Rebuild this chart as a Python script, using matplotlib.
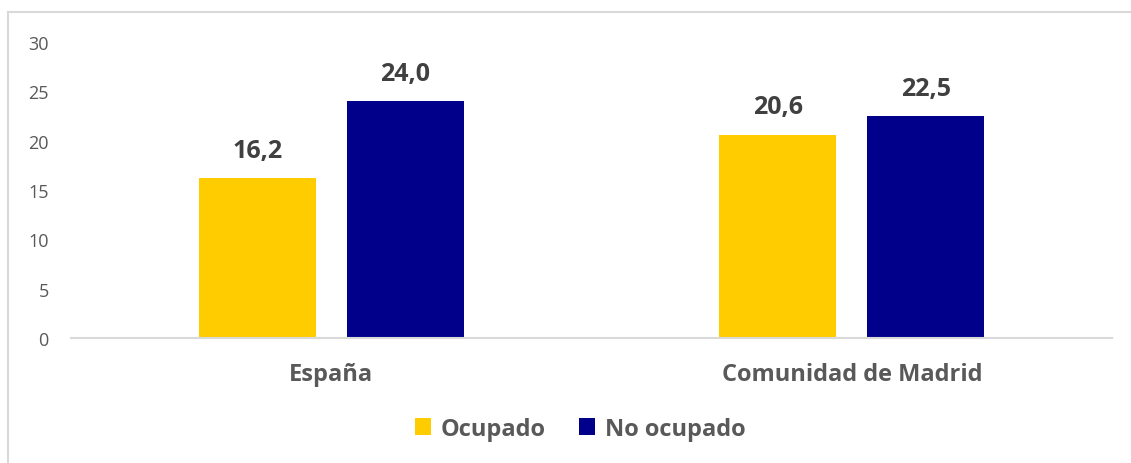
import matplotlib
matplotlib.use("Agg")
import matplotlib.pyplot as plt
import numpy as np
from matplotlib.patches import Patch
from matplotlib.lines import Line2D

categories = ["España", "Comunidad de Madrid"]
series_names = ["Ocupado", "No ocupado"]
ocupado = [16.2, 20.6]
no_ocupado = [24.0, 22.5]
labels_ocupado = ["16,2", "20,6"]
labels_no_ocupado = ["24,0", "22,5"]
yticks = [0, 5, 10, 15, 20, 25, 30]

plt.rcParams['font.family'] = ['Open Sans', 'DejaVu Sans']

W, H = 1131, 464
fig = plt.figure(figsize=(W/100, H/100), dpi=100)
ax = fig.add_axes([71/W, (H-339)/H, 1041/W, 296/H])

x = np.arange(len(categories))
bw = 0.225
off = 0.1425
c1, c2 = "#FFCC00", "#00008B"
b1 = ax.bar(x - off, ocupado, bw, color=c1, zorder=2)
b2 = ax.bar(x + off, no_ocupado, bw, color=c2, zorder=2)

for bars, labs in ((b1, labels_ocupado), (b2, labels_no_ocupado)):
    for r, t in zip(bars, labs):
        ax.annotate(t, (r.get_x() + r.get_width()/2, r.get_height()),
                    xytext=(0, 11), textcoords="offset points",
                    ha="center", va="bottom", fontsize=18, fontweight="bold",
                    color="#404040")

ax.set_xlim(-0.5, 1.5)
ax.set_ylim(0, 30)
ax.set_yticks(yticks)
ax.set_yticklabels([str(v) for v in yticks], fontsize=13, color="#595959")
ax.set_xticks(x)
ax.set_xticklabels(categories, fontsize=17, fontweight="bold", color="#595959")
ax.tick_params(axis="y", length=0, pad=16)
ax.tick_params(axis="x", length=0, pad=17)
for s in ("top", "right", "left"):
    ax.spines[s].set_visible(False)
ax.spines["bottom"].set_color("#d9d9d9")
ax.spines["bottom"].set_linewidth(1.5)

handles = [Patch(facecolor=c1, edgecolor="none"), Patch(facecolor=c2, edgecolor="none")]
fig.legend(handles, series_names, loc="center", bbox_to_anchor=(580/W, 1 - 430/H),
           ncol=2, frameon=False, handlelength=0.7, handleheight=0.7,
           handletextpad=0.4, columnspacing=1.4,
           prop={"size": 17, "weight": "bold"}, labelcolor="#595959")

# outer frame (top and left visible)
fig.add_artist(Line2D([7.5/W, 1.0], [1 - 12.5/H, 1 - 12.5/H], color="#d9d9d9", lw=1.5,
                      transform=fig.transFigure))
fig.add_artist(Line2D([7.5/W, 7.5/W], [0, 1 - 12.5/H], color="#d9d9d9", lw=1.5,
                      transform=fig.transFigure))

fig.savefig("out.png", dpi=100)
